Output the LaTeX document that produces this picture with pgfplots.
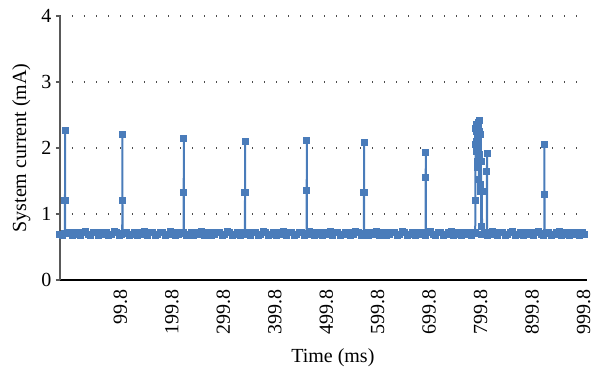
\documentclass[border=0pt]{standalone}
\usepackage{pgfplots}
\pgfplotsset{compat=1.18}
\usepackage{fontspec}
\setmainfont{Liberation Serif}
\definecolor{ser}{RGB}{74,124,186}
\definecolor{axgray}{RGB}{89,89,89}
\begin{document}
\begin{tikzpicture}[font=\fontsize{15}{18}\selectfont]
\useasboundingbox (-45pt,-70.5pt) rectangle (398.25pt,210pt);
\begin{axis}[
  at={(0,0)}, anchor=south west,
  scale only axis, width=395.25pt, height=198pt,
  xmin=-24, xmax=1000, ymin=0, ymax=4,
  clip=false,
  axis x line*=bottom, axis y line*=left,
  x axis line style={black, line width=2.2pt, -},
  y axis line style={axgray, line width=1.4pt, -},
  xtick={99.8,199.8,299.8,399.8,499.8,599.8,699.8,799.8,899.8,999.8},
  xticklabels={99.8,199.8,299.8,399.8,499.8,599.8,699.8,799.8,899.8,999.8},
  xtick style={draw=none},
  xticklabel style={rotate=90, anchor=east, inner sep=1pt, yshift=2.5pt, xshift=-3pt},
  ytick={0,1,2,3,4},
  ytick style={axgray, line width=0.8pt},
  tick align=outside, major tick length=3pt,
  yticklabel style={xshift=0pt},
  /pgf/number format/assume math mode=true,
  ymajorgrids,
  major grid style={black!70, line width=0.9pt, dash pattern=on 0.9pt off 8.1pt},
  xlabel={Time (ms)}, ylabel={System current (mA)},
  every axis x label/.style={at={(axis description cs:0.5,0)}, yshift=-58pt, xshift=7pt, anchor=center},
  every axis y label/.style={at={(axis description cs:0,0.5)}, xshift=-29pt, rotate=90, anchor=center},
]
\addplot[ser, line width=1.5pt, mark=square*, mark size=1.9pt, mark options={solid, fill=ser, draw=ser}] coordinates {
(-24,0.695) (-19,0.68) (-14.5,0.70) (-14.3,1.21) (-14.1,2.27) (-13.9,0.70)
(-9,0.725) (-4,0.715) (1,0.67) (6,0.695) (11,0.725) (16,0.68) (21,0.715)
(26,0.735) (31,0.695) (36,0.68) (41,0.715) (46,0.725) (51,0.67) (56,0.695) (61,0.715) (66,0.725) (71,0.68)
(76,0.695) (81,0.735) (86,0.715) (91,0.68) (96,0.695)
(96.9,0.70) (97.1,1.20) (97.3,2.20) (97.5,0.70)
(101,0.725) (106,0.715) (111,0.67) (116,0.695) (121,0.725)
(126,0.68) (131,0.715) (136,0.695) (141,0.735) (146,0.68) (151,0.715) (156,0.725) (161,0.67) (166,0.695) (171,0.715)
(176,0.725) (181,0.68) (186,0.695) (191,0.735) (196,0.715) (201,0.68) (206,0.695) (211,0.725) (216,0.715)
(216.2,0.70) (216.4,1.33) (216.6,2.15) (216.8,0.70)
(221,0.67)
(226,0.695) (231,0.725) (236,0.68) (241,0.715) (246,0.695) (251,0.735) (256,0.68) (261,0.715) (266,0.725) (271,0.67)
(276,0.695) (281,0.715) (286,0.725) (291,0.68) (296,0.695) (301,0.735) (306,0.715) (311,0.67) (316,0.695) (321,0.725)
(326,0.68) (331,0.715)
(335.3,0.70) (335.5,1.32) (335.7,2.10) (335.9,0.70)
(336,0.725) (341,0.695) (346,0.67) (351,0.715) (356,0.725) (361,0.68) (366,0.695) (371,0.735)
(376,0.715) (381,0.68) (386,0.695) (391,0.725) (396,0.67) (401,0.715) (406,0.695) (411,0.735) (416,0.68) (421,0.715)
(426,0.725) (431,0.67) (436,0.695) (441,0.715) (446,0.725) (451,0.68)
(455.2,0.70) (455.4,1.35) (455.6,2.11) (455.8,0.70)
(456,0.695) (461,0.735) (466,0.715) (471,0.67)
(476,0.695) (481,0.725) (486,0.68) (491,0.715) (496,0.695) (501,0.735) (506,0.68) (511,0.715) (516,0.725) (521,0.67)
(526,0.695) (531,0.715) (536,0.725) (541,0.68) (546,0.695) (551,0.735) (556,0.715) (561,0.67) (566,0.695)
(566.5,0.70) (566.7,1.33) (566.9,2.09) (567.1,0.70)
(571,0.725)
(576,0.68) (581,0.715) (586,0.695) (591,0.735) (596,0.68) (601,0.715) (606,0.725) (611,0.67) (616,0.695) (621,0.715)
(626,0.725) (631,0.68) (636,0.695) (641,0.735) (646,0.715) (651,0.68) (656,0.695) (661,0.725) (666,0.67) (671,0.715)
(676,0.695) (681,0.725) (686,0.68)
(686.4,0.70) (686.6,1.56) (686.8,1.93) (687,0.70)
(691,0.715) (696,0.735) (701,0.695) (706,0.67) (711,0.715) (716,0.725) (721,0.68)
(726,0.695) (731,0.715) (736,0.735) (741,0.68) (746,0.695) (751,0.725) (756,0.67) (761,0.715) (766,0.695) (771,0.725)
(776,0.68) (781,0.715)
(782.8,0.70) (783,1.20) (783.5,2.05) (784,2.30) (784.5,2.10) (785,2.36) (785.5,1.95) (786,2.25) (786.5,1.80)
(787,2.33) (787.5,2.15) (788,1.70) (788.5,2.28) (789,2.00) (789.5,2.38) (790,1.52) (790.5,2.20) (791,2.42)
(791.5,1.90) (792,2.25) (792.5,1.34) (793,1.45) (793.5,2.20) (794,1.79) (794.2,0.81) (794.4,1.34)
(795.9,1.34) (796,0.695)
(801,0.725)
(805.4,0.70) (805.6,1.64) (805.8,1.91) (806,0.70)
(807,0.68) (811,0.715) (816,0.735) (821,0.695)
(826,0.67) (831,0.715) (836,0.725) (841,0.68) (846,0.695) (851,0.715) (856,0.735) (861,0.68) (866,0.695) (871,0.725)
(876,0.67) (881,0.715) (886,0.695) (891,0.725) (896,0.68) (901,0.715) (906,0.735) (911,0.695) (916,0.67)
(916.9,0.70) (917.1,1.30) (917.3,2.05) (917.5,0.70)
(921,0.715)
(926,0.725) (931,0.68) (936,0.695) (941,0.715) (946,0.735) (951,0.68) (956,0.695) (961,0.725) (966,0.67) (971,0.715)
(976,0.695) (981,0.725) (986,0.68) (991,0.715) (996,0.695)
};
\end{axis}
\end{tikzpicture}
\end{document}
